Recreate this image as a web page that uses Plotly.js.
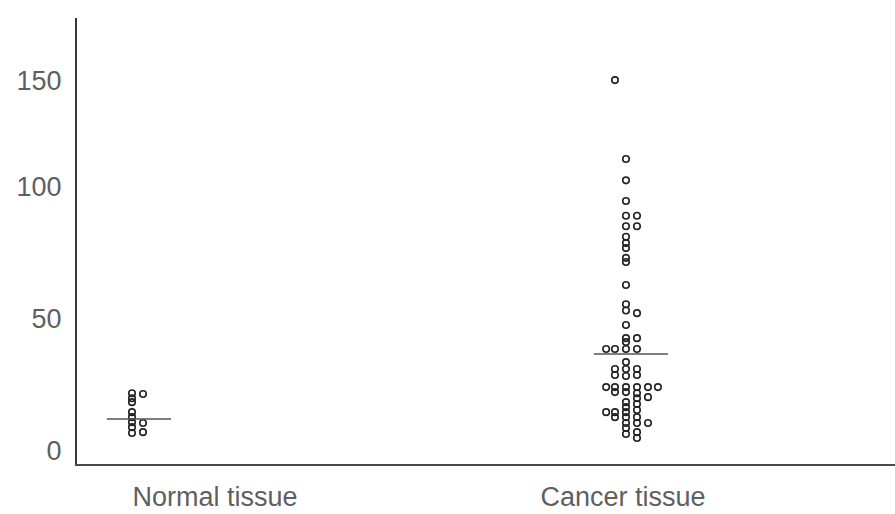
<!DOCTYPE html>
<html>
<head>
<meta charset="utf-8">
<script src="https://cdn.plot.ly/plotly-3.0.1.min.js"></script>
<style>
html,body{margin:0;padding:0;background:#fff;overflow:hidden;}
#chart{width:895px;height:514px;}
</style>
</head>
<body>
<div id="chart"></div>
<script>
// ---- data ----
const categories = ['Normal tissue', 'Cancer tissue'];
const groupCenters = [1, 2];

// column offsets (in dot columns) and values for each group
const normalColumns = [0, 0, 0, 0, 0, 0, 0, 0, 1, 1, 1];
const normalValues  = [21.6, 19.7, 18.2, 14.4, 12.5, 10.6, 8.7, 6.5, 21.3, 10.3, 6.8];

const cancerColumns = [-1, 0, 0, 0, 0, 1, 0, 1, 0, 0, 0, 0, 0, 0, 0, 0, 1, 0, 0, 0, 1,
  -1, -1.8, 0, 1, 0, -1, -1, 0, 0, 1, 1, -1.8, -1, -1, 0, 0, 1, 1, 2, 2.9, 2, 1, 0, 0, 1,
  -1.8, -1, -1, 0, 0, 1, 1, 0, 0, 1, 2, 0, 1, 1];
const cancerValues = [150, 113, 103, 94.6, 89, 89, 85, 85, 81, 78.6, 76.7, 73, 71.4, 62.7, 55.4, 53, 52, 47.5, 42.5, 41, 42.5,
  38.4, 38.4, 38.4, 38.4, 33.4, 30.8, 28.5, 30.8, 28.1, 30.8, 28.5, 23.9, 23.9, 22, 23.9, 22, 23.9, 21.6, 23.9, 23.9, 20.1, 19.7, 18.2, 16.3, 17.5,
  14.4, 14.4, 12.5, 14.4, 12.5, 15.2, 12.5, 10.3, 8.4, 10.3, 10.3, 6.1, 6.8, 4.6];

const groupLines = [11.8, 36.5];          // horizontal bar drawn in each group
const tickValues = [0, 50, 100, 150];
const tickLabels = ['0', '50', '100', '150'];

// ---- the original figure's value axis is compressed above 100 ----
const compressAbove = 100, compressFactor = 106.7 / 131.7;
function axisY(v) { return v <= compressAbove ? v : compressAbove + (v - compressAbove) * compressFactor; }

const colStep = 0.0223;
const lineHalf = [0.065, 0.075];
const lineShift = [0.014, 0.010];

const markerStyle = {symbol: 'circle-open', size: 6.5, color: '#222', line: {width: 1.6, color: '#222'}};

const traces = [
  {x: normalColumns.map(c => groupCenters[0] + c * colStep), y: normalValues.map(axisY),
   type: 'scatter', mode: 'markers', marker: markerStyle, name: categories[0], hoverinfo: 'skip'},
  {x: cancerColumns.map(c => groupCenters[1] + c * colStep), y: cancerValues.map(axisY),
   type: 'scatter', mode: 'markers', marker: markerStyle, name: categories[1], hoverinfo: 'skip'}
];
groupCenters.forEach((g, i) => {
  traces.push({x: [g + lineShift[i] - lineHalf[i], g + lineShift[i] + lineHalf[i]],
    y: [axisY(groupLines[i]), axisY(groupLines[i])], type: 'scatter', mode: 'lines',
    line: {color: '#555', width: 1.6}, hoverinfo: 'skip'});
});

const font = {family: 'Liberation Sans, Arial, sans-serif', size: 27, color: '#5f5f5f'};

const layout = {
  width: 895, height: 514,
  margin: {l: 77, r: 0, t: 18, b: 50, pad: 0},
  paper_bgcolor: '#fff', plot_bgcolor: '#fff',
  showlegend: false,
  font: font,
  xaxis: {
    type: 'linear', range: [0.8887, 2.5446],
    tickvals: [1.168, 1.994], ticktext: categories,
    showgrid: false, zeroline: false, showline: true, linecolor: '#4a4a4a', linewidth: 2,
    ticks: '', ticklabelstandoff: 8, tickfont: font
  },
  yaxis: {
    range: [-5.3, 164.1],
    tickvals: tickValues.map(axisY), ticktext: tickLabels,
    showgrid: false, zeroline: false, showline: true, linecolor: '#3a3a3a', linewidth: 2,
    ticks: '', ticklabelstandoff: 8, tickfont: font
  }
};

Plotly.newPlot('chart', traces, layout, {staticPlot: true, displayModeBar: false});
</script>
</body>
</html>
